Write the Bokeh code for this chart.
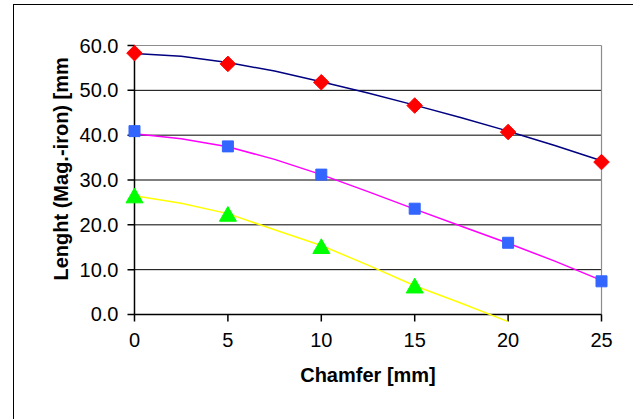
import numpy as np
from bokeh.plotting import figure
from bokeh.models import FixedTicker, NumeralTickFormatter, Range1d, Title
from bokeh.embed import file_html
from bokeh.resources import INLINE

# ---- data ----
chamfer = [0, 5, 10, 15, 20, 25]
chamfer_green = [0, 5, 10, 15]
length_red = [58.3, 55.9, 51.8, 46.6, 40.7, 34.0]
length_blue = [40.9, 37.5, 31.2, 23.6, 16.0, 7.4]
length_green = [26.0, 21.9, 14.7, 5.9]

# trend lines
trend_x = [0, 2.5, 5, 7.5, 10, 12.5, 15, 17.5, 20, 22.5, 25]
trend_red = [58.2, 57.6, 56.2, 54.3, 51.9, 49.4, 46.7, 43.9, 40.9, 37.7, 34.3]
trend_blue = [40.3, 39.2, 37.4, 34.6, 31.2, 27.4, 23.5, 19.7, 15.9, 11.9, 7.6]
trend_x_green = [0, 2.5, 5, 7.5, 10, 12.5, 15, 17.5, 20]
trend_green = [26.5, 24.8, 22.5, 18.9, 15.4, 11.0, 6.4, 2.5, -1.6]

x_ticks = [0, 5, 10, 15, 20, 25]
y_ticks = [0, 10, 20, 30, 40, 50, 60]
grid_levels = [10, 20, 30, 40, 50]

x_title = "Chamfer [mm]"
y_title = "Lenght (Mag.-iron) [mm"

FONT = "Liberation Sans"

W, H = 620, 415
FW, FH = 487, 285
p = figure(width=W, height=H, output_backend="svg", toolbar_location=None,
           x_range=Range1d(-0.535, 25.535), y_range=Range1d(-1.785, 61.785),
           min_border_left=110, min_border_right=W - 110 - FW,
           min_border_top=32, min_border_bottom=H - 32 - FH)
p.margin = (4, 0, 0, 13)
p.styles = {"border-left": "1px solid black", "border-top": "1px solid black"}
p.outline_line_color = None
p.background_fill_color = "white"
p.border_fill_color = "white"
p.xgrid.visible = False
p.ygrid.visible = False

# pixel -> data helpers for tick lengths (style only)
x_unit = (25.535 + 0.535) / FW
y_unit = (61.785 + 1.785) / FH
tick_px = 7

x0, x1 = x_ticks[0], x_ticks[-1]
y0, y1 = y_ticks[0], y_ticks[-1]

# gridlines
n = len(grid_levels)
p.segment(x0=[x0] * n, x1=[x1] * n, y0=grid_levels, y1=grid_levels,
          line_color="black", line_width=1)
# plot-area border (top, right)
p.segment(x0=[x0, x1], x1=[x1, x1], y0=[y1, y0], y1=[y1, y1],
          line_color="#8c8c8c", line_width=1.2)
# axis lines + ticks
p.segment(x0=[x0, x0], x1=[x1, x0], y0=[y0, y0], y1=[y0, y1],
          line_color="black", line_width=1.5)
p.segment(x0=[x0] * len(y_ticks), x1=[x0 - tick_px * x_unit] * len(y_ticks),
          y0=y_ticks, y1=y_ticks, line_color="black", line_width=1.5)
p.segment(x0=x_ticks, x1=x_ticks, y0=[y0] * len(x_ticks),
          y1=[y0 - tick_px * y_unit] * len(x_ticks), line_color="black", line_width=1.5)

# trend lines
p.line(trend_x, trend_red, line_color="#000080", line_width=1.5)
p.line(trend_x, trend_blue, line_color="#FF00FF", line_width=1.5)
p.line(trend_x_green, trend_green, line_color="#FFFF00", line_width=1.5)

# markers
p.scatter(chamfer, length_red, marker="square", angle=np.pi / 4, size=11,
          fill_color="#FF0000", line_color="#FF0000")
p.scatter(chamfer, length_blue, marker="square", size=11,
          fill_color="#3366FF", line_color="#3366FF")
p.scatter(chamfer_green, length_green, marker="triangle", size=17,
          fill_color="#00FF00", line_color="#00FF00")

# axes: labels only (lines and ticks drawn above)
p.xaxis.ticker = FixedTicker(ticks=x_ticks)
p.yaxis.ticker = FixedTicker(ticks=y_ticks)
p.yaxis.formatter = NumeralTickFormatter(format="0.0")
for ax in (p.xaxis[0], p.yaxis[0]):
    ax.axis_line_color = None
    ax.major_tick_line_color = None
    ax.major_tick_out = 0
    ax.major_tick_in = 0
    ax.minor_tick_line_color = None
    ax.major_label_text_font = FONT
    ax.major_label_text_font_size = "20px"
    ax.major_label_text_color = "black"
p.xaxis.major_label_standoff = 10
p.yaxis.major_label_standoff = 6

p.xaxis.axis_label = x_title
p.xaxis.axis_label_text_font = FONT
p.xaxis.axis_label_text_font_style = "bold"
p.xaxis.axis_label_text_font_size = "20px"
p.xaxis.axis_label_text_color = "black"
p.xaxis.axis_label_standoff = 14

ytitle = Title(text=y_title, align="left", offset=42, text_font=FONT,
               text_font_style="bold", text_font_size="20px", text_color="black",
               standoff=10)
p.add_layout(ytitle, "left")

open("out.html", "w").write(file_html(p, INLINE))
